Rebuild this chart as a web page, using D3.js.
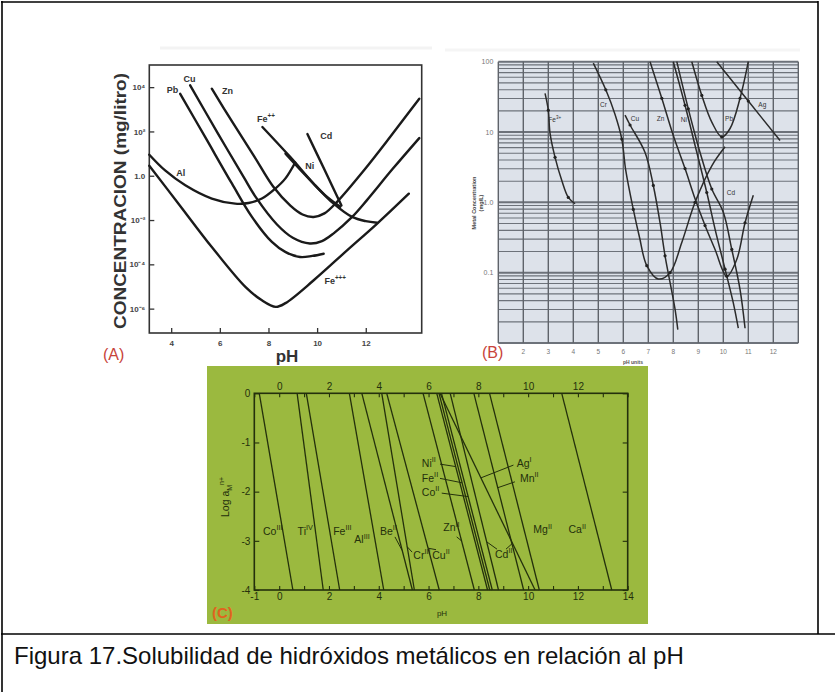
<!DOCTYPE html>
<html>
<head>
<meta charset="utf-8">
<script src="https://cdn.jsdelivr.net/npm/d3@7"></script>
<style>
  body { margin: 0; background: #fff; }
  svg { display: block; }
  text { font-family: "Liberation Sans", Arial, sans-serif; }
</style>
</head>
<body>
<svg id="fig" width="835" height="692"></svg>
<script>
// ---------------- data ----------------
// (A) solubility curves, [pH, log10 concentration mg/l]
const phTicksA = [4, 6, 8, 10, 12];
const concTicksA = [1e4, 1e2, 1, 1e-2, 1e-4, 1e-6];
const concTickLabelsA = ['10⁴', '10²', '1.0', '10⁻²', '10⁻⁴', '10⁻⁶'];
const alA = [[3.1, 0.95], [3.75, 0.24], [4.58, -0.43], [5.67, -1.03], [6.63, -1.26], [7.18, -1.23], [7.73, -1.03], [8.28, -0.58], [8.69, -0.13], [9.1, 0.6]];
const pbA = [[4.37, 3.7], [5.4, 1.74], [6.5, -0.36], [7.32, -1.86], [8.14, -2.99], [8.69, -3.44], [9.3, -3.67], [9.8, -3.62], [10.27, -3.52]];
const cuA = [[4.78, 4.08], [5.9, 1.95], [7.0, -0.1], [7.5, -1.0], [8.35, -2.2], [9.0, -2.8], [9.7, -3.06], [10.2, -2.95], [10.68, -2.6], [11.44, -1.86], [12.05, -1.1], [13.1, 0.3], [14.2, 1.7]];
const znA = [[5.67, 3.93], [6.5, 2.45], [7.4, 0.9], [8.2, -0.5], [8.9, -1.35], [9.4, -1.75], [9.86, -1.86], [10.3, -1.7], [10.8, -1.2], [11.92, 0.24], [13.0, 1.75], [14.2, 3.48]];
const fe2A = [[7.75, 2.2], [8.9, 0.84], [9.86, -0.36], [10.68, -1.26], [11.44, -1.86], [12.0, -2.05], [12.47, -2.12]];
const niA = [[8.7, 1.0], [9.5, 0.05], [10.3, -0.85], [10.95, -1.4]];
const cdA = [[9.6, 1.88], [10.3, 0.28], [11.0, -1.34]];
const fe3A = [[3.1, 0.45], [4.3, -1.26], [5.67, -3.22], [7.05, -5.02], [7.7, -5.6], [8.3, -5.92], [8.7, -5.75], [9.86, -4.72], [11.23, -3.37], [12.47, -2.16], [13.77, -0.81]];
// label text, superscript, pH, log10 conc
const labelsA = [['Pb', '', 3.82, 3.72], ['Cu', '', 4.51, 4.23], ['Zn', '', 6.09, 3.7], ['Fe', '++', 7.53, 2.42],
                 ['Cd', '', 10.13, 1.67], ['Ni', '', 9.51, 0.32], ['Al', '', 4.21, -0.03], ['Fe', '+++', 10.3, -4.87]];

// (B) metal concentration (mg/L) vs pH units, [pH, log10 mg/L]
const phTicksB = [2, 3, 4, 5, 6, 7, 8, 9, 10, 11, 12];
const concTicksB = [100, 10, 1, 0.1];
const concTickLabelsB = ['100', '10', '1.0', '0.1'];
const fe3B = [[2.87, 1.55], [3.0, 1.31], [3.07, 0.98], [3.27, 0.64], [3.54, 0.31], [3.8, 0.07], [4.07, -0.02]];
const crB = [[4.8, 1.98], [5.3, 1.6], [5.67, 1.25], [5.94, 0.9], [6.1, 0.45], [6.4, -0.1], [6.65, -0.5], [6.94, -0.9], [7.4, -1.09], [7.87, -1.0], [8.34, -0.57], [8.87, 0.0], [9.54, 0.52], [10.07, 0.79]];
const cuB = [[6.07, 1.24], [6.27, 1.1], [6.87, 0.71], [7.2, 0.24], [7.47, -0.29], [7.67, -0.76], [8.07, -1.52], [8.18, -1.81]];
const znB = [[7.07, 2.0], [7.54, 1.48], [8.0, 0.95], [8.47, 0.48], [8.87, 0.05], [9.27, -0.33], [9.67, -0.67], [10.14, -1.05], [10.54, -0.81], [10.87, -0.29], [11.2, 0.1]];
const niB = [[8.0, 2.0], [8.47, 1.38], [8.87, 0.81], [9.34, 0.14], [9.67, -0.38], [10.07, -0.95], [10.4, -1.43], [10.6, -1.79]];
const cdB = [[8.14, 2.0], [8.6, 1.33], [9.07, 0.71], [9.54, 0.19], [10.0, -0.14], [10.34, -0.67], [10.67, -1.24], [10.87, -1.79]];
const pbB = [[8.74, 2.0], [9.14, 1.52], [9.54, 1.14], [9.94, 0.93], [10.27, 1.05], [10.67, 1.48], [11.0, 2.0]];
const agB = [[9.74, 2.0], [11.0, 1.44], [12.27, 0.88]];
const labelsB = [['Fe', '3+', 3.0, 1.14], ['Cr', '', 5.07, 1.36], ['Cu', '', 6.3, 1.16], ['Zn', '', 7.34, 1.16],
                 ['Ni', '', 8.3, 1.14], ['Pb', '', 10.07, 1.15], ['Ag', '', 11.4, 1.36], ['Cd', '', 10.14, 0.1]];

// (C) log a(M n+) lines: pH where log a = 0 and where log a = -4
const metalsC = ['CoIII', 'TiIV', 'FeIII', 'AlIII', 'BeII', 'CrIII', 'CuII', 'ZnII', 'NiII', 'FeII', 'CoII', 'CdII', 'AgI', 'MnII', 'MgII', 'CaII'];
const phAtZeroC = [-0.8, 0.72, 1.09, 2.82, 3.32, 4.12, 4.32, 5.78, 6.33, 6.42, 6.52, 6.87, 6.46, 7.82, 8.45, 11.35];
const phAtMinus4C = [0.55, 1.77, 2.43, 4.2, 5.35, 5.43, 6.43, 7.84, 8.37, 8.46, 8.56, 8.81, 10.28, 9.82, 10.45, 13.36];
const phTicksBottomC = [-1, 0, 2, 4, 6, 8, 10, 12, 14];
const phTicksTopC = [0, 2, 4, 6, 8, 10, 12];
const logTicksC = [0, -1, -2, -3, -4];
// label: base, roman superscript, pH, log a
const labelsC = [['Co', 'III', -0.65, -2.88], ['Ti', 'IV', 0.74, -2.88], ['Fe', 'III', 2.17, -2.88], ['Al', 'III', 3.02, -3.05],
                 ['Be', 'II', 4.05, -2.88], ['Cr', 'III', 5.39, -3.36], ['Cu', 'II', 6.15, -3.36], ['Zn', 'II', 6.59, -2.81],
                 ['Ni', 'II', 5.73, -1.49], ['Fe', 'II', 5.73, -1.8], ['Co', 'II', 5.73, -2.09], ['Ag', 'I', 9.54, -1.49],
                 ['Mn', 'II', 9.67, -1.8], ['Cd', 'II', 8.67, -3.34], ['Mg', 'II', 10.21, -2.85], ['Ca', 'II', 11.62, -2.85]];
// leader lines: start [pH, log], target metal line, log a where it touches
const leadersC = [[6.46, -1.44, 'NiII', -1.49], [6.46, -1.73, 'FeII', -1.82], [6.53, -2.03, 'CoII', -2.1],
                  [9.41, -1.46, 'AgI', -1.72], [9.47, -1.8, 'MnII', -1.92], [4.65, -2.92, 'BeII', -3.2],
                  [5.34, -3.23, 'CrIII', -3.12], [6.3, -3.18, 'CuII', -3.15], [7.13, -2.92, 'ZnII', -3.0],
                  [8.75, -3.17, 'CdII', -3.02], [9.11, -3.17, 'AgI', -3.05]];

const caption = 'Figura 17.Solubilidad de hidróxidos metálicos en relación al pH';

// ---------------- drawing ----------------
const svg = d3.select('#fig');

// text with an optional superscript part
function supLabel(g, x, y, base, sup, size, colour) {
    const t = g.append('text')
        .attr('x', x)
        .attr('y', y)
        .attr('font-size', size)
        .attr('fill', colour);
    t.append('tspan').text(base);
    if (sup) {
        t.append('tspan').attr('dy', -size * 0.45).attr('font-size', size * 0.7).text(sup);
    }
    return t;
}

function drawFrame() {
    const g = svg.append('g').attr('class', 'frame').attr('stroke', '#000').attr('stroke-width', 1.6);
    g.append('line').attr('x1', 2).attr('x2', 2).attr('y1', 1).attr('y2', 692);
    g.append('line').attr('x1', 1).attr('x2', 818).attr('y1', 2).attr('y2', 2);
    g.append('line').attr('x1', 818).attr('x2', 818).attr('y1', 1).attr('y2', 634);
    g.append('line').attr('x1', 1).attr('x2', 835).attr('y1', 634).attr('y2', 634);

    // faint edges of the pasted pictures
    svg.append('line').attr('x1', 160).attr('x2', 432).attr('y1', 48).attr('y2', 48)
        .attr('stroke', '#f3f3f3').attr('stroke-width', 3);
    svg.append('line').attr('x1', 445).attr('x2', 800).attr('y1', 50).attr('y2', 50)
        .attr('stroke', '#f5f5f5').attr('stroke-width', 3);

    svg.append('text')
        .attr('x', 14)
        .attr('y', 664)
        .attr('font-size', 24)
        .attr('fill', '#111')
        .text(caption);
}

function drawPanelA() {
    const cfg = { left: 149.3, right: 421.7, top: 65, bottom: 333, ink: '#1a1a1a' };
    const x = d3.scaleLinear().domain([3.1, 14.3]).range([cfg.left, cfg.right]);
    const y = d3.scaleLog().domain([Math.pow(10, -7.1), 1e5]).range([cfg.bottom, cfg.top]);
    const g = svg.append('g').attr('class', 'panel-a');

    g.append('rect')
        .attr('x', cfg.left).attr('y', cfg.top)
        .attr('width', cfg.right - cfg.left).attr('height', cfg.bottom - cfg.top)
        .attr('fill', '#fff').attr('stroke', '#333').attr('stroke-width', 1.6);

    const xAxisG = g.append('g')
        .attr('transform', `translate(0,${cfg.bottom})`)
        .call(d3.axisBottom(x).tickValues(phTicksA).tickFormat(d3.format('d')).tickSize(-5).tickPadding(7));
    const yAxisG = g.append('g')
        .attr('transform', `translate(${cfg.left},0)`)
        .call(d3.axisLeft(y).tickValues(concTicksA).tickFormat((d, i) => concTickLabelsA[i]).tickSize(-5).tickPadding(4));
    [xAxisG, yAxisG].forEach(a => {
        a.select('.domain').remove();
        a.selectAll('line').attr('stroke', '#333').attr('stroke-width', 1.3);
        a.selectAll('text').attr('font-size', 8).attr('font-weight', 'bold').attr('fill', '#444')
            .attr('font-family', '"Liberation Serif", serif');
    });

    const line = d3.line()
        .x(d => x(d[0]))
        .y(d => y(Math.pow(10, d[1])))
        .curve(d3.curveCatmullRom.alpha(0.5));

    g.selectAll('path.curve')
        .data([alA, pbA, cuA, znA, fe2A, niA, cdA, fe3A])
        .join('path')
        .attr('class', 'curve')
        .attr('d', line)
        .attr('fill', 'none')
        .attr('stroke', cfg.ink)
        .attr('stroke-width', 2.4)
        .attr('stroke-linecap', 'round');

    labelsA.forEach(l => {
        supLabel(g, x(l[2]), y(Math.pow(10, l[3])), l[0], l[1], 9, '#333').attr('font-weight', 'bold');
    });

    g.append('text')
        .attr('transform', 'translate(126,201) rotate(-90)')
        .attr('text-anchor', 'middle')
        .attr('font-size', 16)
        .attr('font-weight', 'bold')
        .attr('fill', '#333')
        .attr('textLength', 256)
        .attr('lengthAdjust', 'spacingAndGlyphs')
        .text('CONCENTRACION (mg/litro)');

    g.append('text')
        .attr('x', 287).attr('y', 362)
        .attr('text-anchor', 'middle')
        .attr('font-size', 17)
        .attr('font-weight', 'bold')
        .attr('fill', '#333')
        .text('pH');

    g.append('text')
        .attr('x', 103).attr('y', 360)
        .attr('font-size', 16)
        .attr('fill', '#c8433a')
        .text('(A)');
}

function drawPanelB() {
    const cfg = { left: 498.3, right: 798.3, top: 61.7, bottom: 343 };
    const x = d3.scaleLinear().domain([1, 13]).range([cfg.left, cfg.right]);
    const y = d3.scaleLog().domain([0.01, 100]).range([cfg.bottom, cfg.top]);
    const g = svg.append('g').attr('class', 'panel-b');

    g.append('rect')
        .attr('x', cfg.left).attr('y', cfg.top)
        .attr('width', cfg.right - cfg.left).attr('height', cfg.bottom - cfg.top)
        .attr('fill', '#dde2ea');

    // log grid: every unit of each decade
    const hGrid = [];
    [-2, -1, 0, 1].forEach(k => d3.range(1, 10).forEach(m => hGrid.push(m * Math.pow(10, k))));
    hGrid.push(100);
    g.selectAll('line.hgrid')
        .data(hGrid)
        .join('line')
        .attr('class', 'hgrid')
        .attr('x1', cfg.left).attr('x2', cfg.right)
        .attr('y1', d => y(d)).attr('y2', d => y(d))
        .attr('stroke', '#6d727a')
        .attr('stroke-width', d => (Math.abs(Math.log10(d) % 1) < 1e-9 ? 2 : 1.1));

    g.selectAll('line.vgrid')
        .data(d3.range(1, 14))
        .join('line')
        .attr('class', 'vgrid')
        .attr('x1', d => x(d)).attr('x2', d => x(d))
        .attr('y1', cfg.top).attr('y2', cfg.bottom)
        .attr('stroke', '#5f636a')
        .attr('stroke-width', 1.4);

    const line = d3.line()
        .x(d => x(d[0]))
        .y(d => y(Math.pow(10, d[1])))
        .curve(d3.curveCatmullRom.alpha(0.5));

    const curves = [fe3B, crB, cuB, znB, niB, cdB, pbB, agB];
    g.selectAll('path.curve')
        .data(curves)
        .join('path')
        .attr('class', 'curve')
        .attr('d', line)
        .attr('fill', 'none')
        .attr('stroke', '#2b2b2b')
        .attr('stroke-width', 1.5);

    // measured points along each curve
    g.selectAll('circle.pt')
        .data(curves.flatMap(c => c.slice(1, -1).filter((d, i) => i % 2 === 0)))
        .join('circle')
        .attr('class', 'pt')
        .attr('cx', d => x(d[0]))
        .attr('cy', d => y(Math.pow(10, d[1])))
        .attr('r', 1.6)
        .attr('fill', '#222');

    labelsB.forEach(l => {
        supLabel(g, x(l[2]), y(Math.pow(10, l[3])), l[0], l[1], 6.5, '#333');
    });

    g.selectAll('text.ytick')
        .data(concTicksB)
        .join('text')
        .attr('class', 'ytick')
        .attr('x', cfg.left - 5)
        .attr('y', d => y(d) + 2.5)
        .attr('text-anchor', 'end')
        .attr('font-size', 7)
        .attr('fill', '#777')
        .text((d, i) => concTickLabelsB[i]);

    g.selectAll('text.xtick')
        .data(phTicksB)
        .join('text')
        .attr('class', 'xtick')
        .attr('x', d => x(d))
        .attr('y', cfg.bottom + 11)
        .attr('text-anchor', 'middle')
        .attr('font-size', 6.5)
        .attr('fill', '#777')
        .text(d => d);

    g.append('text')
        .attr('x', 633).attr('y', 364)
        .attr('text-anchor', 'middle')
        .attr('font-size', 5)
        .attr('font-weight', 'bold')
        .attr('fill', '#555')
        .text('pH units');

    const yt = g.append('text')
        .attr('transform', 'translate(476,203) rotate(-90)')
        .attr('text-anchor', 'middle')
        .attr('font-size', 5.5)
        .attr('font-weight', 'bold')
        .attr('fill', '#444');
    yt.append('tspan').attr('x', 0).attr('dy', 0).text('Metal Concentration');
    yt.append('tspan').attr('x', 0).attr('dy', 6.5).text('(mg/L)');

    g.append('text')
        .attr('x', 482).attr('y', 358)
        .attr('font-size', 16)
        .attr('fill', '#c8433a')
        .text('(B)');
}

function drawPanelC() {
    const cfg = { left: 254.3, right: 627.7, top: 393.3, bottom: 590, ink: '#24300c', green: '#9bb93f' };
    const x = d3.scaleLinear().domain([-1, 14]).range([cfg.left, cfg.right]);
    const y = d3.scaleLinear().domain([-4, 0]).range([cfg.bottom, cfg.top]);
    const g = svg.append('g').attr('class', 'panel-c');

    g.append('rect')
        .attr('x', 207).attr('y', 366).attr('width', 441).attr('height', 258)
        .attr('fill', cfg.green);

    g.append('rect')
        .attr('x', cfg.left).attr('y', cfg.top)
        .attr('width', cfg.right - cfg.left).attr('height', cfg.bottom - cfg.top)
        .attr('fill', 'none').attr('stroke', cfg.ink).attr('stroke-width', 1.6);

    const styleAxis = a => {
        a.select('.domain').remove();
        a.selectAll('line').attr('stroke', cfg.ink).attr('stroke-width', 1.1);
        a.selectAll('text').attr('font-size', 10).attr('fill', cfg.ink);
    };
    const plain = d => String(d);
    const intTicks = d3.range(-1, 15);
    styleAxis(g.append('g').attr('transform', `translate(0,${cfg.bottom})`)
        .call(d3.axisBottom(x).tickValues(intTicks).tickFormat('').tickSize(-4)));
    styleAxis(g.append('g').attr('transform', `translate(0,${cfg.bottom})`)
        .call(d3.axisBottom(x).tickValues(phTicksBottomC).tickFormat(plain).tickSize(0).tickPadding(3)));
    styleAxis(g.append('g').attr('transform', `translate(0,${cfg.top})`)
        .call(d3.axisTop(x).tickValues(intTicks).tickFormat('').tickSize(-4)));
    styleAxis(g.append('g').attr('transform', `translate(0,${cfg.top})`)
        .call(d3.axisTop(x).tickValues(phTicksTopC).tickFormat(plain).tickSize(0).tickPadding(3)));
    styleAxis(g.append('g').attr('transform', `translate(${cfg.left},0)`)
        .call(d3.axisLeft(y).tickValues(logTicksC).tickFormat(plain).tickSize(-5).tickPadding(4)));
    styleAxis(g.append('g').attr('transform', `translate(${cfg.right},0)`)
        .call(d3.axisRight(y).tickValues(logTicksC).tickFormat('').tickSize(-5)));

    const lines = metalsC.map((m, i) => ({ metal: m, top: phAtZeroC[i], bottom: phAtMinus4C[i] }));
    const phAt = (m, lg) => {
        const d = lines.find(l => l.metal === m);
        return d.top + (d.bottom - d.top) * (-lg / 4);
    };

    g.selectAll('line.metal')
        .data(lines)
        .join('line')
        .attr('class', 'metal')
        .attr('x1', d => x(d.top)).attr('y1', y(0))
        .attr('x2', d => x(d.bottom)).attr('y2', y(-4))
        .attr('stroke', cfg.ink)
        .attr('stroke-width', 1.3);

    g.selectAll('line.leader')
        .data(leadersC)
        .join('line')
        .attr('class', 'leader')
        .attr('x1', d => x(d[0])).attr('y1', d => y(d[1]))
        .attr('x2', d => x(phAt(d[2], d[3]))).attr('y2', d => y(d[3]))
        .attr('stroke', cfg.ink)
        .attr('stroke-width', 1);

    labelsC.forEach(l => {
        supLabel(g, x(l[2]), y(l[3]), l[0], l[1], 10.5, cfg.ink);
    });

    const yt = g.append('text')
        .attr('transform', 'translate(229,497) rotate(-90)')
        .attr('text-anchor', 'middle')
        .attr('font-size', 10.5)
        .attr('fill', cfg.ink);
    yt.append('tspan').text('Log a');
    yt.append('tspan').attr('dy', 3).attr('font-size', 7).text('M');
    yt.append('tspan').attr('dy', -8).attr('font-size', 7).text('n+');

    g.append('text')
        .attr('x', 442).attr('y', 616)
        .attr('text-anchor', 'middle')
        .attr('font-size', 8)
        .attr('fill', cfg.ink)
        .text('pH');

    g.append('text')
        .attr('x', 212).attr('y', 618)
        .attr('font-size', 15)
        .attr('font-weight', 'bold')
        .attr('fill', '#e0641e')
        .text('(C)');
}

drawFrame();
drawPanelA();
drawPanelB();
drawPanelC();
</script>
</body>
</html>
